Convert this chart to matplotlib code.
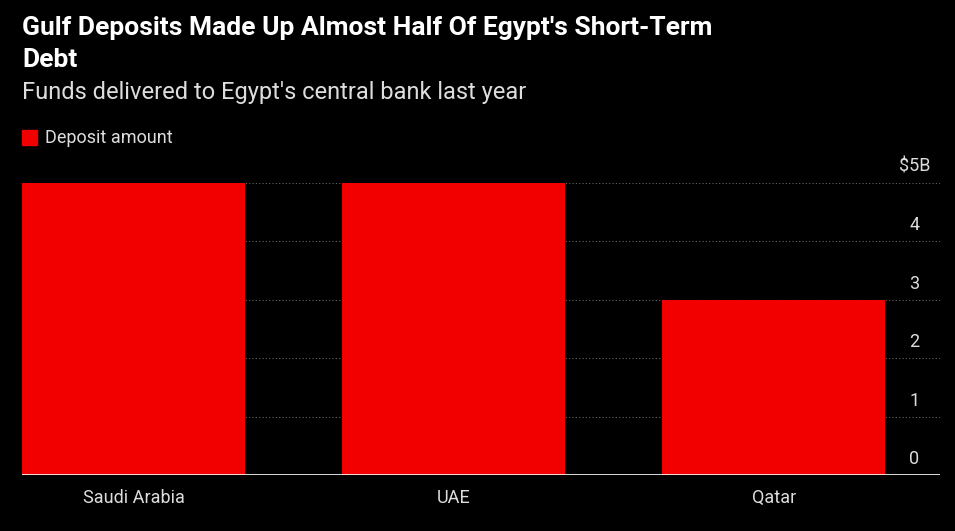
import matplotlib
matplotlib.use("Agg")
import matplotlib.pyplot as plt
from matplotlib.patches import Rectangle

categories = ["Saudi Arabia", "UAE", "Qatar"]
values = [5, 5, 3]
yticks = [0, 1, 2, 3, 4, 5]
ytick_labels = ["0", "1", "2", "3", "4", "$5B"]

plt.rcParams['font.family'] = ['Roboto', 'DejaVu Sans']
fig = plt.figure(figsize=(9.55, 5.31), dpi=100, facecolor="black")
ax = fig.add_axes([22/955, 1-475/531, (940-22)/955, (475-183)/531], facecolor="black")
x = list(range(len(categories)))
ax.bar(x, values, width=0.697, color="#f20000", zorder=1)
ax.set_xlim(-0.35, 2.52)
ax.set_ylim(0, 5)
for t in yticks[1:]:
    ax.axhline(t, color="#666666", lw=0.8, ls=(0, (1, 2)), zorder=0)
ax.axhline(0, color="white", lw=1.2, zorder=3)
for t, lab in zip(yticks, ytick_labels):
    ax.text(2.44, t + 0.12, lab, color="#dddddd", fontsize=13, ha="center", va="bottom")
ax.set_xticks(x)
ax.set_xticklabels(categories, color="#dddddd", fontsize=13)
ax.tick_params(axis="x", length=0, pad=10)
ax.set_yticks([])
for s in ax.spines.values():
    s.set_visible(False)

fig.text(22/955, 1-28/531, "Gulf Deposits Made Up Almost Half Of Egypt's Short-Term", color="white",
         fontsize=19, fontweight="bold", va="center")
fig.text(22/955, 1-60/531, "Debt", color="white", fontsize=19, fontweight="bold", va="center")
fig.text(22/955, 1-92/531, "Funds delivered to Egypt's central bank last year", color="#dddddd",
         fontsize=17, va="center")
fig.patches.append(Rectangle((22/955, 1-145/531), 15/955, 15/531, transform=fig.transFigure,
                             color="#f20000"))
fig.text(45/955, 1-138/531, "Deposit amount", color="#dddddd", fontsize=13, va="center")
fig.savefig("out.png", dpi=100, facecolor="black")
